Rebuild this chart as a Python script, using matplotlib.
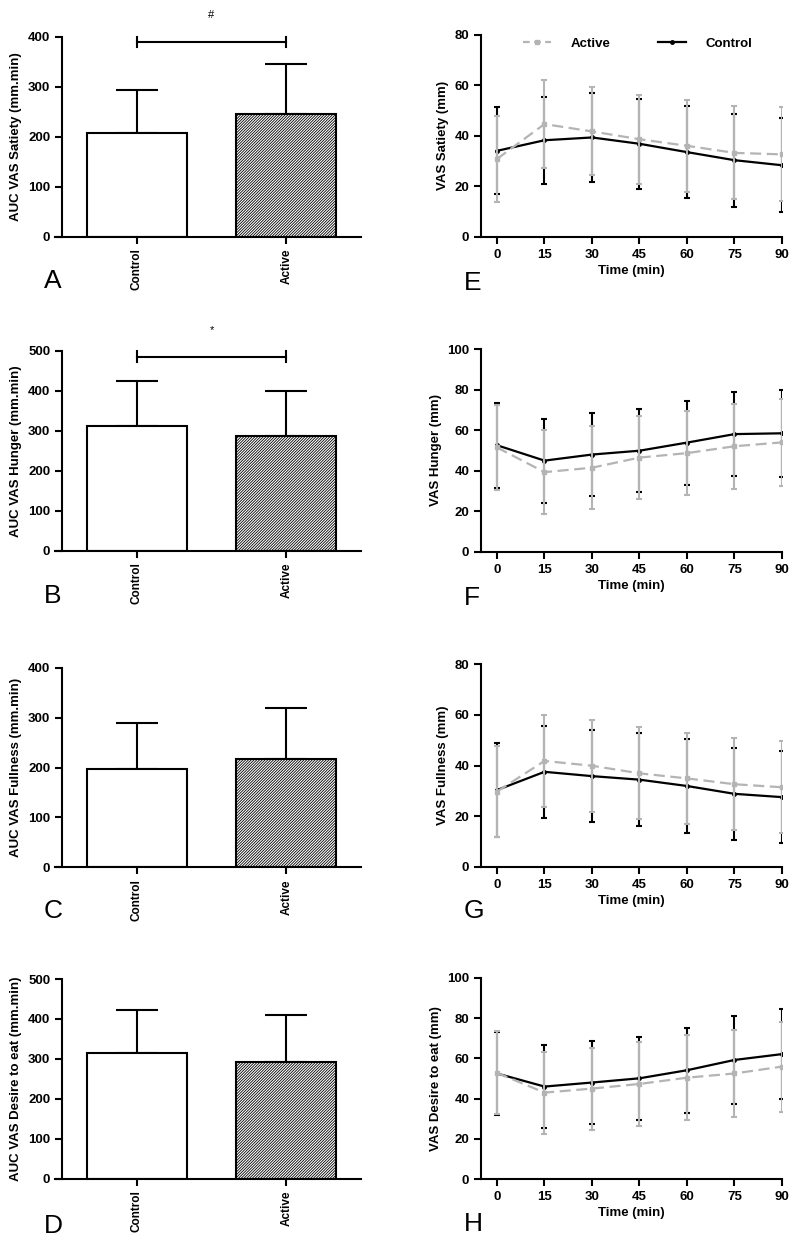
import matplotlib
matplotlib.use("Agg")
import matplotlib.pyplot as plt
from matplotlib.lines import Line2D

plt.rcParams["font.family"] = ["Liberation Sans", "DejaVu Sans"]
plt.rcParams["font.weight"] = "bold"
plt.rcParams["axes.labelweight"] = "bold"
plt.rcParams["hatch.linewidth"] = 0.6

# ---- data ----
groups = ["Control", "Active"]
time_min = [0, 15, 30, 45, 60, 75, 90]

auc_satiety_mean = [207, 246]
auc_satiety_sd = [87, 100]
auc_hunger_mean = [312, 286]
auc_hunger_sd = [112, 114]
auc_fullness_mean = [196, 218]
auc_fullness_sd = [94, 102]
auc_desire_mean = [314, 292]
auc_desire_sd = [108, 118]

satiety_control = [34.0, 38.2, 39.3, 36.8, 33.5, 30.3, 28.3]
satiety_control_sd = [17.2, 17.3, 17.5, 17.8, 18.1, 18.4, 18.7]
satiety_active = [30.8, 44.6, 41.7, 38.6, 36.0, 33.2, 32.6]
satiety_active_sd = [17.1, 17.3, 17.4, 17.6, 18.1, 18.4, 18.6]

hunger_control = [52.6, 45.0, 48.0, 49.9, 53.9, 58.1, 58.5]
hunger_control_sd = [21.0, 20.7, 20.5, 20.4, 20.8, 20.9, 21.4]
hunger_active = [51.5, 39.3, 41.5, 46.5, 48.7, 52.1, 54.0]
hunger_active_sd = [21.1, 20.6, 20.5, 20.5, 20.8, 21.0, 21.6]

fullness_control = [30.3, 37.5, 35.8, 34.4, 31.9, 28.8, 27.5]
fullness_control_sd = [18.5, 18.3, 18.3, 18.3, 18.4, 18.3, 18.3]
fullness_active = [29.7, 41.8, 39.9, 36.9, 34.9, 32.6, 31.4]
fullness_active_sd = [18.1, 18.2, 18.2, 18.2, 18.1, 18.1, 18.2]

desire_control = [52.5, 46.0, 48.0, 50.1, 54.1, 59.2, 62.1]
desire_control_sd = [20.5, 20.7, 20.4, 20.7, 21.0, 21.8, 22.4]
desire_active = [52.8, 43.0, 45.0, 47.3, 50.4, 52.5, 55.9]
desire_active_sd = [20.6, 20.3, 20.3, 20.8, 21.1, 21.7, 22.3]

GREY = "#b4b4b4"
W, H = 796, 1240
fig = plt.figure(figsize=(W / 100, H / 100), dpi=100)


def px_axes(left, top, right, bottom):
    return fig.add_axes([left / W, 1 - bottom / H, (right - left) / W, (bottom - top) / H])


def style_axes(ax):
    for s in ("top", "right"):
        ax.spines[s].set_visible(False)
    for s in ("left", "bottom"):
        ax.spines[s].set_linewidth(1.5)
    ax.tick_params(direction="out", length=5, width=1.5, labelsize=9.5)


def bar_panel(ax, means, sds, ymax, ylabel, sig=None):
    style_axes(ax)
    x = [0, 1]
    ax.bar(x[0], means[0], width=0.67, color="white", edgecolor="black", linewidth=1.5, zorder=2)
    ax.bar(x[1], means[1], width=0.67, color="white", edgecolor="black", linewidth=1.5,
           hatch="/" * 12, zorder=2)
    ax.errorbar(x, means, yerr=[[0, 0], sds], fmt="none", ecolor="black",
                elinewidth=1.5, capsize=15, capthick=1.5, zorder=1)
    ax.set_xlim(-0.547, 1.5)
    ax.spines["left"].set_position(("data", -0.5))
    ax.set_ylim(0, ymax)
    ax.set_yticks(range(0, ymax + 1, 100))
    ax.set_xticks(x)
    ax.set_xticklabels(groups, rotation=90, fontsize=8.5)
    ax.set_ylabel(ylabel, fontsize=9.5, labelpad=4)
    if sig is not None:
        y, tick, mark = sig
        ax.plot([0, 1], [y, y], color="black", lw=1.5, clip_on=False)
        ax.plot([0, 0], [y - tick, y + tick], color="black", lw=1.5, clip_on=False)
        ax.plot([1, 1], [y - tick, y + tick], color="black", lw=1.5, clip_on=False)
        ax.text(0.5, y + ymax * 0.135, mark, ha="center", va="center", fontsize=8,
                fontweight="normal")


def line_panel(ax, ctrl, ctrl_sd, act, act_sd, ymax, ylabel, legend=False):
    style_axes(ax)
    ax.errorbar(time_min, ctrl, yerr=ctrl_sd, color="black", lw=1.6,
                marker="o", ms=2.5, elinewidth=1.5, capsize=2, capthick=1.5, zorder=2)
    ax.errorbar(time_min, act, yerr=act_sd, color=GREY, lw=1.6, ls="--",
                dashes=(5, 2.5), marker="s", ms=3, elinewidth=1.5, capsize=2,
                capthick=1.5, zorder=3)
    ax.set_xlim(-5.05, 90)
    ax.set_ylim(0, ymax)
    ax.set_xticks(time_min)
    ax.set_yticks(range(0, ymax + 1, 20))
    ax.set_xlabel("Time (min)", fontsize=9.5, labelpad=3)
    ax.set_ylabel(ylabel, fontsize=9.5, labelpad=4)
    if legend:
        ha = Line2D([], [], color=GREY, lw=1.6, ls="--", dashes=(3, 2), marker="s", ms=3)
        hc = Line2D([], [], color="black", lw=1.6, marker="o", ms=2.5)
        ax.legend([ha, hc], ["Active", "Control"], ncol=2, frameon=False, fontsize=9.5,
                  loc="center left", bbox_to_anchor=(0.14, 0.954), borderpad=0,
                  borderaxespad=0, handlelength=2.1, handletextpad=1.5,
                  columnspacing=3.6)


axA = px_axes(55, 36.7, 361, 236.7)
bar_panel(axA, auc_satiety_mean, auc_satiety_sd, 400, "AUC VAS Satiety (mm.min)",
          sig=(389, 10, "#"))
axB = px_axes(55, 351, 361, 550.7)
bar_panel(axB, auc_hunger_mean, auc_hunger_sd, 500, "AUC VAS Hunger (mm.min)",
          sig=(486, 13, "*"))
axC = px_axes(55, 667.7, 361, 867.3)
bar_panel(axC, auc_fullness_mean, auc_fullness_sd, 400, "AUC VAS Fullness (mm.min)")
axD = px_axes(55, 979, 361, 1178.7)
bar_panel(axD, auc_desire_mean, auc_desire_sd, 500, "AUC VAS Desire to eat (mm.min)")

axE = px_axes(481, 34.7, 782, 236.7)
line_panel(axE, satiety_control, satiety_control_sd, satiety_active, satiety_active_sd,
           80, "VAS Satiety (mm)", legend=True)
axF = px_axes(481, 349.3, 782, 551.7)
line_panel(axF, hunger_control, hunger_control_sd, hunger_active, hunger_active_sd,
           100, "VAS Hunger (mm)")
axG = px_axes(481, 664.3, 782, 866.7)
line_panel(axG, fullness_control, fullness_control_sd, fullness_active, fullness_active_sd,
           80, "VAS Fullness (mm)")
axH = px_axes(481, 977.7, 782, 1179.3)
line_panel(axH, desire_control, desire_control_sd, desire_active, desire_active_sd,
           100, "VAS Desire to eat (mm)")

for letter, xp, yp in [("A", 44, 281), ("B", 44, 596), ("C", 44, 911), ("D", 44, 1226),
                       ("E", 464, 283), ("F", 464, 598), ("G", 464, 911), ("H", 464, 1224)]:
    fig.text(xp / W, 1 - yp / H, letter, fontsize=19, fontweight="normal",
             ha="left", va="center")

fig.savefig("out.png", dpi=100)
